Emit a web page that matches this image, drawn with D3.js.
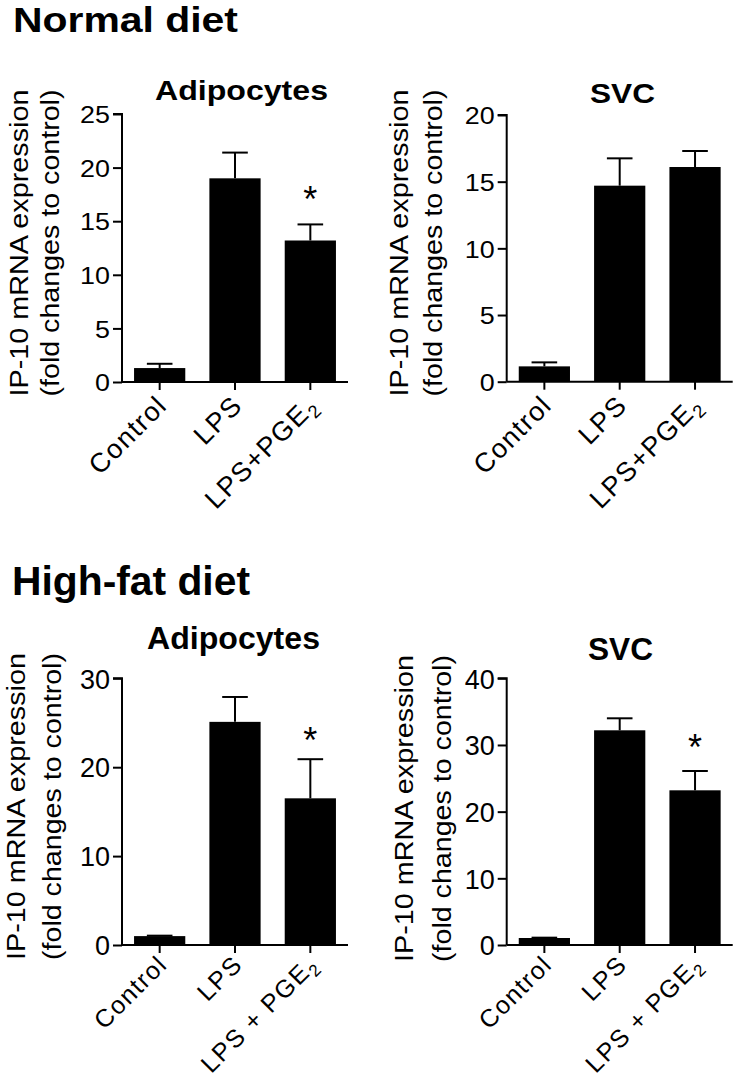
<!DOCTYPE html>
<html><head><meta charset="utf-8">
<script src="https://cdn.jsdelivr.net/npm/d3@7"></script>
<style>
html,body{margin:0;padding:0;background:#fff;}
svg text{font-family:"Liberation Sans",Arial,Helvetica,sans-serif;fill:#000;}
</style></head>
<body>
<svg id="chart" width="738" height="1080"></svg>
<script>
// ---- data ----
const categoriesTop = ["Control", "LPS", "LPS+PGE"];
const categoriesBottom = ["Control", "LPS", "LPS + PGE"];
const subscriptLast = "2";

const ndAdipoMean = [1.3, 19.0, 13.2];
const ndAdipoErr  = [0.4, 2.4, 1.5];
const ndAdipoSig  = [false, false, true];
const ndAdipoTicks = [0, 5, 10, 15, 20, 25];

const ndSvcMean = [1.15, 14.7, 16.1];
const ndSvcErr  = [0.3, 2.05, 1.2];
const ndSvcSig  = [false, false, false];
const ndSvcTicks = [0, 5, 10, 15, 20];

const hfAdipoMean = [1.0, 25.1, 16.5];
const hfAdipoErr  = [0.05, 2.8, 4.4];
const hfAdipoSig  = [false, false, true];
const hfAdipoTicks = [0, 10, 20, 30];

const hfSvcMean = [1.05, 32.2, 23.2];
const hfSvcErr  = [0.05, 1.8, 2.9];
const hfSvcSig  = [false, false, true];
const hfSvcTicks = [0, 10, 20, 30, 40];

const yLabel1 = "IP-10 mRNA expression";
const yLabel2 = "(fold changes to control)";

// ---- drawing ----
const svg = d3.select("#chart");

function sectionTitle(txt, x, y, size, len) {
  svg.append("text").attr("x", x).attr("y", y)
    .attr("font-size", size).attr("font-weight", "bold")
    .attr("textLength", len).attr("lengthAdjust", "spacingAndGlyphs")
    .text(txt);
}
sectionTitle("Normal diet", 13, 32, 35, 225);
sectionTitle("High-fat diet", 12, 595, 40, 238);

function panel(cfg) {
  const g = svg.append("g");
  const x = d3.scaleBand().domain(cfg.cats).range([cfg.x0, cfg.x0 + 226])
    .paddingInner(0.32).paddingOuter(0.16);
  const y = d3.scaleLinear().domain([0, d3.max(cfg.ticks)]).range([cfg.y0, cfg.yTop]);

  // title
  g.append("text").attr("x", cfg.titleX).attr("y", cfg.titleY)
    .attr("text-anchor", "middle").attr("font-size", cfg.titleSize)
    .attr("font-weight", "bold")
    .attr("textLength", cfg.titleLen).attr("lengthAdjust", "spacingAndGlyphs")
    .text(cfg.title);

  // y label (two lines)
  [[yLabel1, cfg.yl1], [yLabel2, cfg.yl2]].forEach(([t, bx]) => {
    g.append("text")
      .attr("transform", `translate(${bx},${cfg.ylCenter}) rotate(-90)`)
      .attr("text-anchor", "middle").attr("font-size", cfg.ylSize)
      .attr("textLength", cfg.ylLen).attr("lengthAdjust", "spacingAndGlyphs")
      .text(t);
  });

  // bars
  g.selectAll("rect.bar").data(cfg.mean).join("rect")
    .attr("class", "bar")
    .attr("x", (d, i) => x(cfg.cats[i]))
    .attr("width", x.bandwidth())
    .attr("y", d => y(d))
    .attr("height", d => y(0) - y(d))
    .attr("fill", "#000");

  // error bars (upper only)
  const capW = x.bandwidth() / 2;
  cfg.mean.forEach((m, i) => {
    const cx = x(cfg.cats[i]) + x.bandwidth() / 2;
    const top = y(m + cfg.err[i]);
    g.append("line").attr("x1", cx).attr("x2", cx).attr("y1", y(m)).attr("y2", top)
      .attr("stroke", "#000").attr("stroke-width", 2);
    g.append("line").attr("x1", cx - capW / 2).attr("x2", cx + capW / 2)
      .attr("y1", top).attr("y2", top)
      .attr("stroke", "#000").attr("stroke-width", 2);
    if (cfg.sig[i]) {
      g.append("text").attr("x", cx).attr("y", top - cfg.starOff)
        .attr("text-anchor", "middle").attr("font-size", 36).text("*");
    }
  });

  // y axis
  const ya = d3.axisLeft(y).tickValues(cfg.ticks).tickSize(9).tickPadding(3).tickFormat(d3.format("d"));
  const yg = g.append("g").attr("transform", `translate(${cfg.x0},0)`).call(ya);
  yg.select(".domain").attr("stroke-width", 2).attr("d", `M-9,${y(d3.max(cfg.ticks))}H0V${y(0)}`);
  yg.selectAll(".tick line").attr("stroke-width", 2);
  yg.selectAll(".tick text").attr("font-size", cfg.tickSize)
    .attr("x", -12 / cfg.stretch).attr("dy", "0.36em")
    .attr("transform", `scale(${cfg.stretch},1)`);

  // x axis
  const xa = d3.axisBottom(x).tickSize(8).tickFormat("");
  const xg = g.append("g").attr("transform", `translate(0,${cfg.y0})`).call(xa);
  xg.select(".domain").attr("stroke-width", 2).attr("d", `M${cfg.x0},0H${cfg.x0 + 226}`);
  xg.selectAll(".tick line").attr("stroke-width", 2);

  // x labels rotated
  cfg.cats.forEach((c, i) => {
    const cx = x(c) + x.bandwidth() / 2;
    const t = g.append("text")
      .attr("transform", `translate(${cx + cfg.xlDx},${cfg.y0 + cfg.xlDy}) rotate(-45)`)
      .attr("text-anchor", "end").attr("font-size", cfg.xlSize)
      .attr("letter-spacing", cfg.xlLs);
    t.append("tspan").text(c);
    if (i === cfg.cats.length - 1) {
      t.append("tspan").attr("font-size", cfg.xlSize * 0.68).attr("dy", cfg.xlSize * 0.22).text(subscriptLast);
    }
  });
}

panel({cats: categoriesTop, mean: ndAdipoMean, err: ndAdipoErr, sig: ndAdipoSig, ticks: ndAdipoTicks,
  x0: 122, y0: 382, yTop: 114, title: "Adipocytes", titleX: 241.5, titleY: 100, titleSize: 28, titleLen: 173,
  yl1: 28, yl2: 59, ylCenter: 243, ylSize: 25, ylLen: 307, tickSize: 24, stretch: 1.12,
  starOff: 12, xlDx: 9, xlDy: 25, xlSize: 27, xlLs: 1.5});

panel({cats: categoriesTop, mean: ndSvcMean, err: ndSvcErr, sig: ndSvcSig, ticks: ndSvcTicks,
  x0: 506.7, y0: 381.7, yTop: 115, title: "SVC", titleX: 622.5, titleY: 103, titleSize: 28, titleLen: 65,
  yl1: 408, yl2: 442, ylCenter: 243, ylSize: 25, ylLen: 307, tickSize: 24, stretch: 1.12,
  starOff: 12, xlDx: 9, xlDy: 25, xlSize: 27, xlLs: 1.5});

panel({cats: categoriesBottom, mean: hfAdipoMean, err: hfAdipoErr, sig: hfAdipoSig, ticks: hfAdipoTicks,
  x0: 122, y0: 945, yTop: 678.3, title: "Adipocytes", titleX: 233.5, titleY: 649, titleSize: 31, titleLen: 173,
  yl1: 25, yl2: 61, ylCenter: 806.5, ylSize: 25, ylLen: 307, tickSize: 27, stretch: 1,
  starOff: 6, xlDx: 9, xlDy: 21, xlSize: 25, xlLs: 1.5});

panel({cats: categoriesBottom, mean: hfSvcMean, err: hfSvcErr, sig: hfSvcSig, ticks: hfSvcTicks,
  x0: 506.7, y0: 945, yTop: 678.3, title: "SVC", titleX: 620.5, titleY: 660, titleSize: 32, titleLen: 65,
  yl1: 413, yl2: 451, ylCenter: 808.5, ylSize: 25, ylLen: 307, tickSize: 27, stretch: 1,
  starOff: 11, xlDx: 9, xlDy: 21, xlSize: 25, xlLs: 1.5});
</script>
</body></html>
